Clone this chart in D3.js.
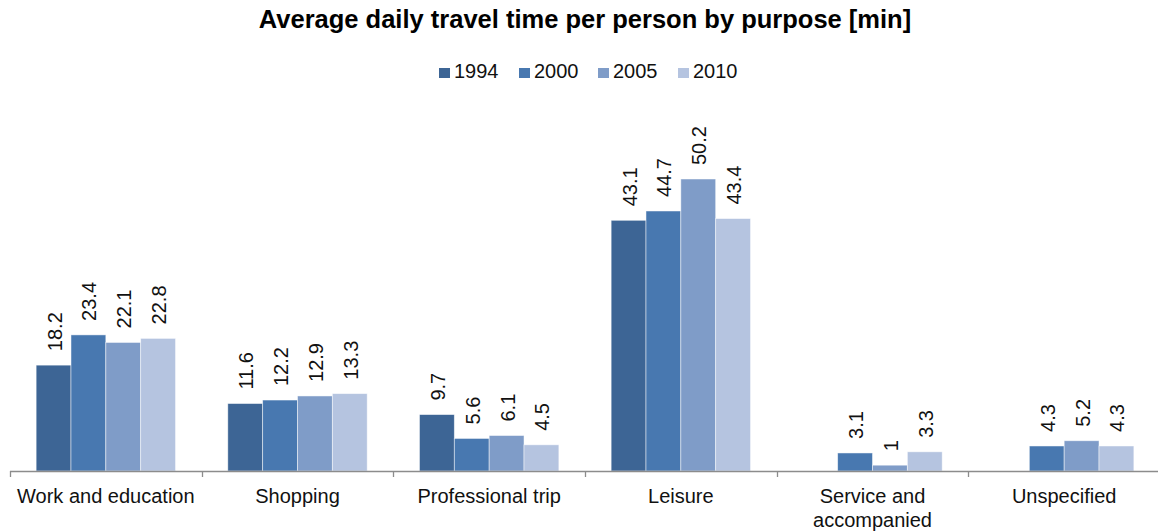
<!DOCTYPE html>
<html>
<head>
<meta charset="utf-8">
<script src="https://cdn.jsdelivr.net/npm/d3@7"></script>
<style>
  body { margin: 0; background: #fff; }
  svg { display: block; font-family: "Liberation Sans", Arial, sans-serif; }
</style>
</head>
<body>
<svg id="chart" width="1158" height="532"></svg>
<script>
const categories = ["Work and education", "Shopping", "Professional trip", "Leisure", "Service and\naccompanied", "Unspecified"];
const years = ["1994", "2000", "2005", "2010"];
const v1994 = [18.2, 11.6, 9.7, 43.1, null, null];
const v2000 = [23.4, 12.2, 5.6, 44.7, 3.1, 4.3];
const v2005 = [22.1, 12.9, 6.1, 50.2, 1, 5.2];
const v2010 = [22.8, 13.3, 4.5, 43.4, 3.3, 4.3];
const colors = ["#3d6595", "#4878b0", "#7f9cc8", "#b5c4e0"];

const seriesValues = [v1994, v2000, v2005, v2010];
const svg = d3.select("#chart");
const W = 1158, H = 532;
const margin = { left: 10, right: -2, top: 122, bottom: 61 };
const plotBottom = H - margin.bottom;

const x0 = d3.scaleBand().domain(categories).range([margin.left, W - margin.right]).paddingInner(0).paddingOuter(0);
const x1 = d3.scaleBand().domain(years).range([0, x0.bandwidth()]).paddingOuter(0.75).paddingInner(0);
const y = d3.scaleLinear().domain([0, 60]).range([plotBottom, plotBottom - 349]);

// Title
svg.append("text")
  .attr("x", 585).attr("y", 28)
  .attr("text-anchor", "middle")
  .attr("font-size", 25.5).attr("font-weight", "bold").attr("fill", "#000")
  .text("Average daily travel time per person by purpose [min]");

// Legend
const legendX = [439, 519, 598, 678];
const legend = svg.append("g");
years.forEach((yr, i) => {
  const g = legend.append("g").attr("transform", `translate(${legendX[i]},78)`);
  g.append("rect").attr("x", 0).attr("y", -10).attr("width", 11).attr("height", 10).attr("fill", colors[i]);
  g.append("text").attr("x", 15).attr("y", 0)
    .attr("font-size", 20).attr("fill", "#111").text(yr);
});

// Bars and value labels
const barData = [];
categories.forEach((c, ci) => {
  years.forEach((yr, si) => {
    const v = seriesValues[si][ci];
    if (v !== null) barData.push({ c, yr, si, v });
  });
});

svg.append("g").selectAll("rect").data(barData).join("rect")
  .attr("x", d => x0(d.c) + x1(d.yr))
  .attr("y", d => y(d.v))
  .attr("width", x1.bandwidth())
  .attr("height", d => y(0) - y(d.v))
  .attr("fill", d => colors[d.si])
  .attr("stroke", "#ffffff").attr("stroke-opacity", 0.6).attr("stroke-width", 0.8);

svg.append("g").selectAll("text").data(barData).join("text")
  .attr("transform", d => `translate(${x0(d.c) + x1(d.yr) + x1.bandwidth() / 2 + 1},${y(d.v) - 14}) rotate(-90)`)
  .attr("text-anchor", "start")
  .attr("dy", "0.35em")
  .attr("font-size", 20).attr("fill", "#111")
  .text(d => d3.format("")(d.v));

// Category axis
const axisG = svg.append("g");
axisG.append("line")
  .attr("x1", margin.left).attr("x2", W)
  .attr("y1", plotBottom + 0.5).attr("y2", plotBottom + 0.5)
  .attr("stroke", "#8c8c8c").attr("stroke-width", 1.3);
const tickXs = categories.map(c => x0(c));
axisG.selectAll("line.tick").data(tickXs).join("line").attr("class", "tick")
  .attr("x1", d => Math.round(d) + 0.5).attr("x2", d => Math.round(d) + 0.5)
  .attr("y1", plotBottom).attr("y2", plotBottom + 6)
  .attr("stroke", "#8c8c8c").attr("stroke-width", 1.3);

axisG.selectAll("text.cat").data(categories).join("text").attr("class", "cat")
  .attr("x", d => x0(d) + x0.bandwidth() / 2)
  .attr("y", plotBottom + 32)
  .attr("text-anchor", "middle")
  .attr("font-size", 20).attr("fill", "#111")
  .each(function (d) {
    const lines = d.split("\n");
    d3.select(this).selectAll("tspan").data(lines).join("tspan")
      .attr("x", x0(d) + x0.bandwidth() / 2)
      .attr("dy", (l, i) => i === 0 ? 0 : 24)
      .text(l => l);
  });
</script>
</body>
</html>
